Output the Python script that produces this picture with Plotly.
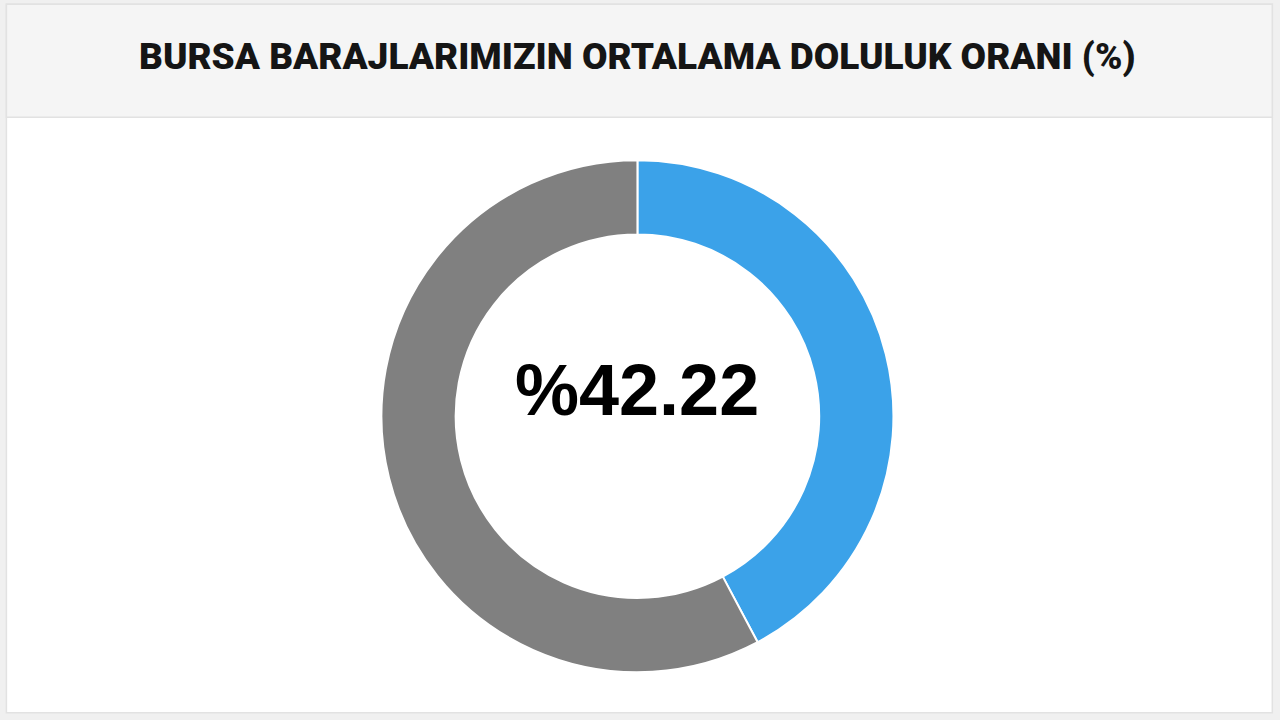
import plotly.graph_objects as go

# Data
title_text = "BURSA BARAJLARIMIZIN ORTALAMA DOLULUK ORANI (%)"
labels = ["Dolu", "Boş"]
values = [42.22, 57.78]
colors = ["#3ba2e9", "#808080"]
center_label = "%42.22"

fig = go.Figure()
fig.add_trace(go.Pie(
    labels=labels,
    values=values,
    hole=0.71,
    sort=False,
    direction="clockwise",
    rotation=0,
    marker=dict(colors=colors, line=dict(color="white", width=2)),
    textinfo="none",
    hoverinfo="label+value",
    showlegend=False,
    domain=dict(x=[0.298, 0.698], y=[0.066, 0.778]),
))

# card + header band
fig.add_shape(type="rect", xref="paper", yref="paper", x0=0.005, x1=0.994, y0=0.01, y1=0.994,
              fillcolor="white", line=dict(color="#e2e2e2", width=1.5), layer="below")
fig.add_shape(type="rect", xref="paper", yref="paper", x0=0.005, x1=0.994, y0=0.837, y1=0.994,
              fillcolor="#f5f5f5", line=dict(color="#e2e2e2", width=1.5), layer="below")

fig.add_annotation(text=title_text, xref="paper", yref="paper", x=0.498, y=0.921,
                   showarrow=False, xanchor="center", yanchor="middle",
                   font=dict(family="Roboto, Liberation Sans Narrow, sans-serif",
                             size=37, color="#151515", weight=900))
fig.add_annotation(text=center_label, xref="paper", yref="paper", x=0.498, y=0.458,
                   showarrow=False, xanchor="center", yanchor="middle",
                   font=dict(family="Liberation Sans, Arial, sans-serif", size=72, color="#000000", weight="bold"))

fig.update_layout(
    width=1280, height=720,
    margin=dict(l=0, r=0, t=0, b=0),
    paper_bgcolor="#f0f0f0",
    plot_bgcolor="white",
)

fig.write_html("out.html", config={"displayModeBar": False},
               post_script="document.body.style.margin='0';")
